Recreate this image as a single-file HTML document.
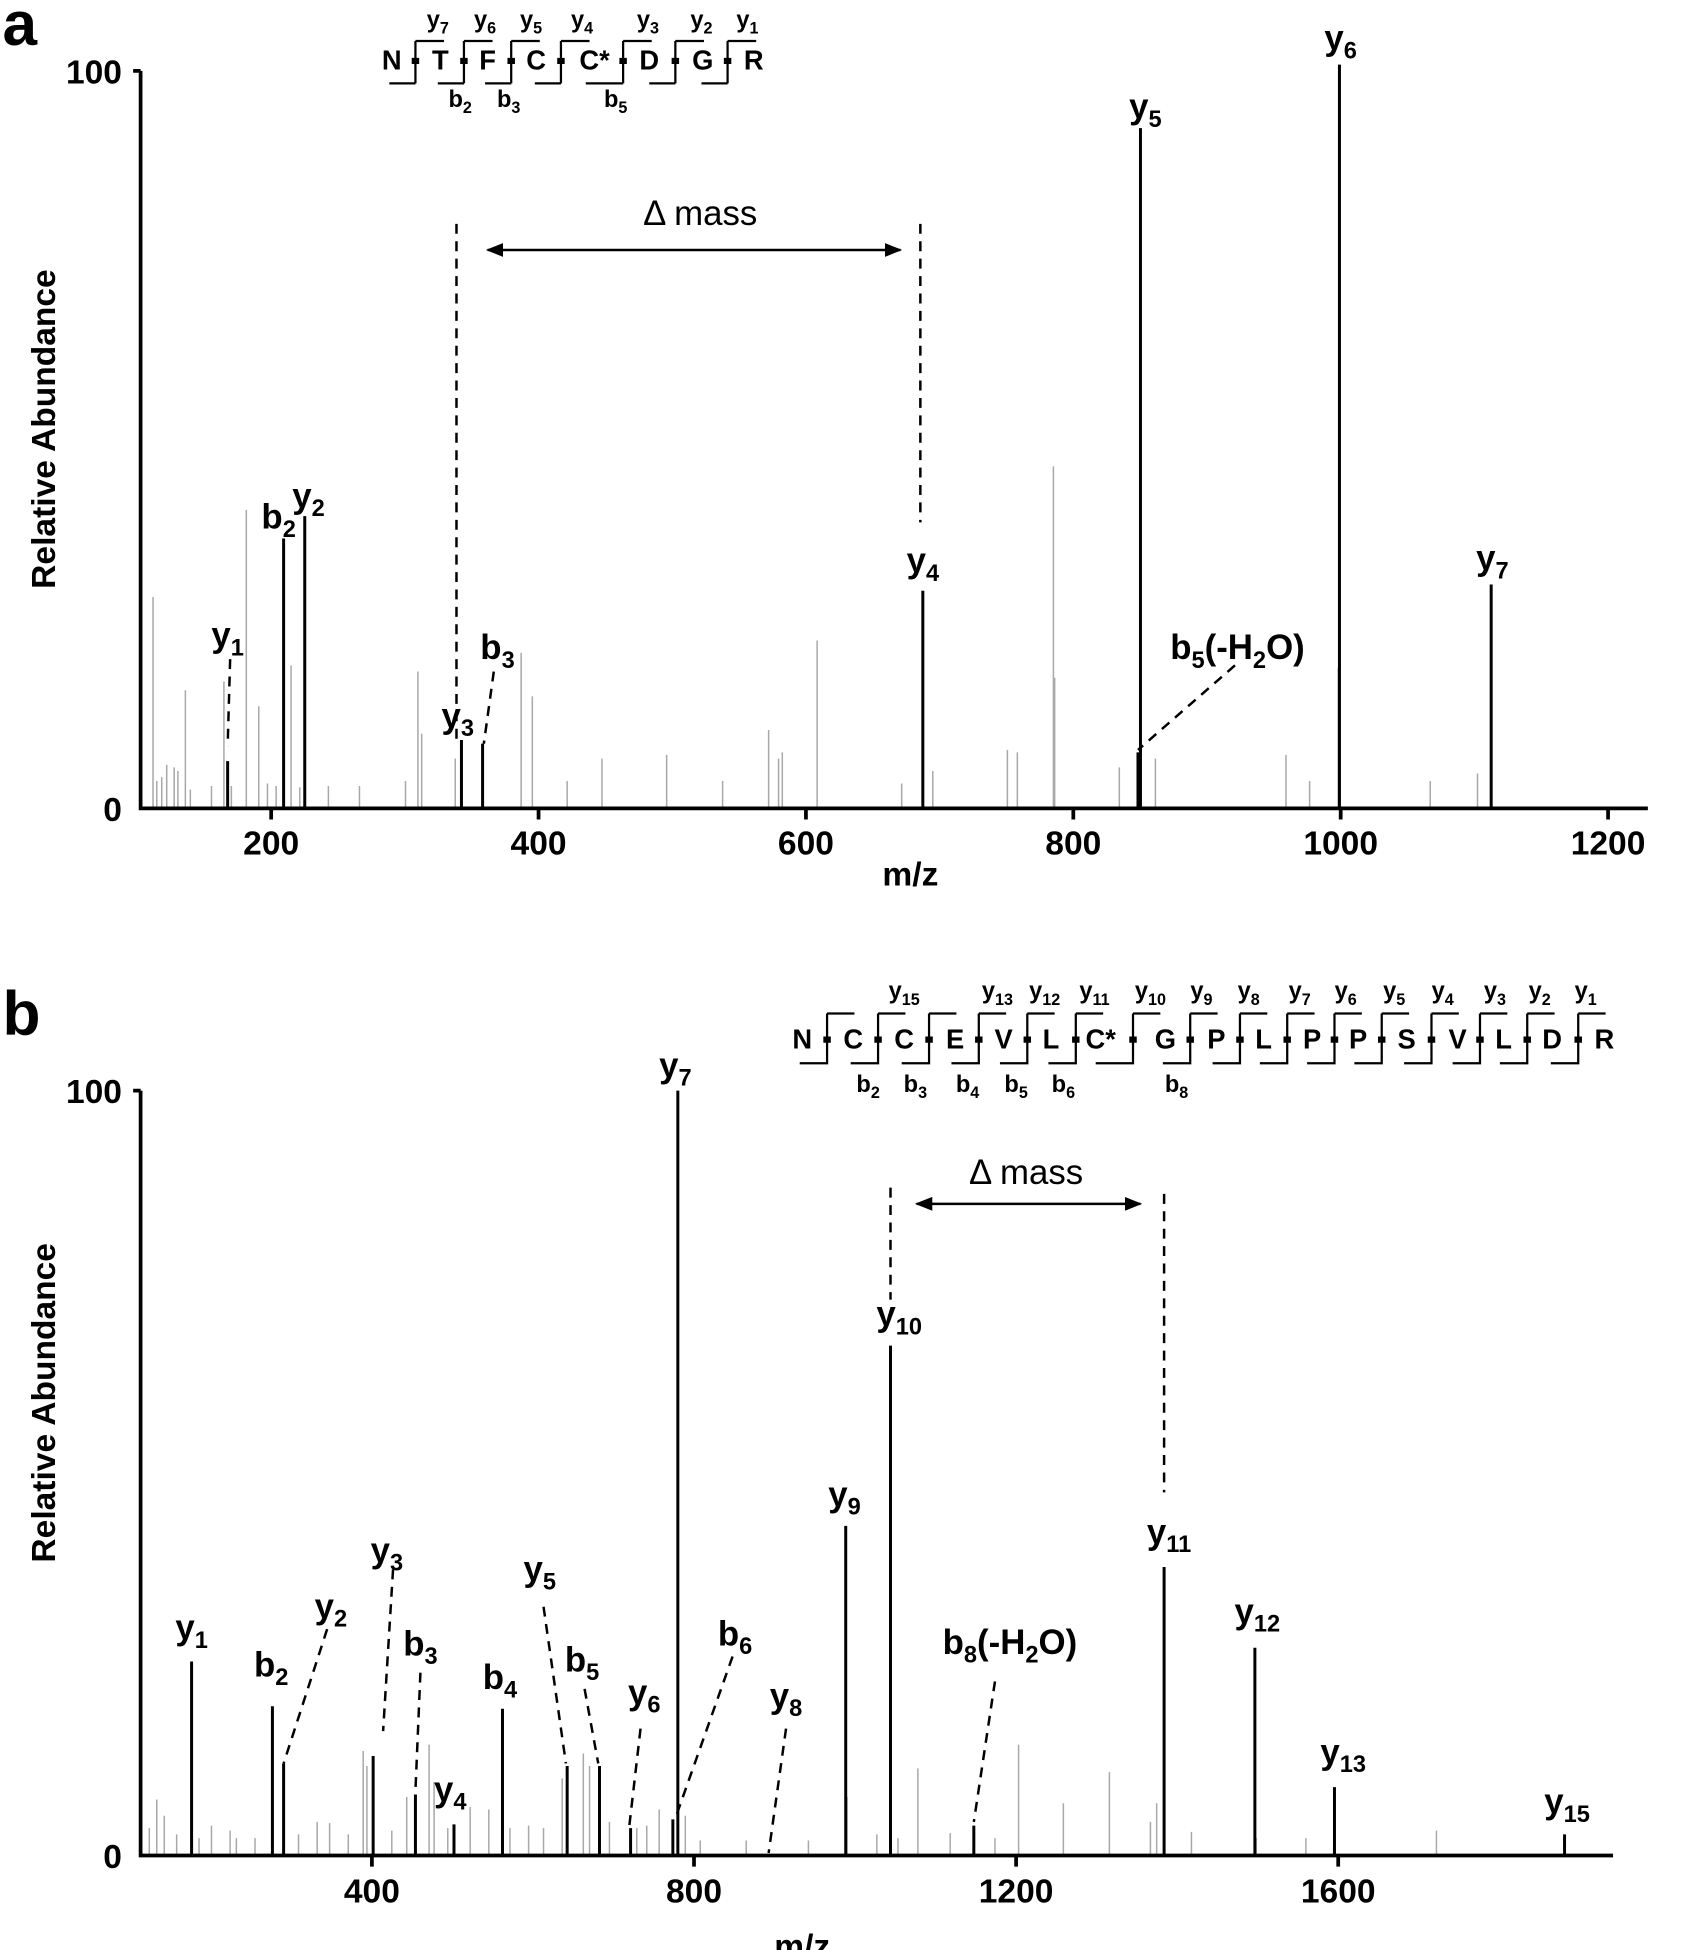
<!DOCTYPE html>
<html><head><meta charset="utf-8"><style>
html,body{margin:0;padding:0;background:#fff}
svg{display:block}
text{font-family:"Liberation Sans Narrow","Liberation Sans",sans-serif;font-weight:bold;fill:#000}
.w{font-family:"Liberation Sans",sans-serif}
.pk{font-size:28px;text-anchor:middle}
.sq{font-size:22px;text-anchor:middle}
.sl{font-size:19px;text-anchor:middle}
.tk{font-size:27px;text-anchor:middle}
.g{stroke:#a8a8a8;stroke-width:1.2;fill:none}
.k{stroke:#000;stroke-width:2.4;fill:none}
.d{stroke:#000;stroke-width:2;stroke-dasharray:8,6;fill:none}
.ax{stroke:#000;stroke-width:3;fill:none}
.br{stroke:#000;stroke-width:1.8;fill:none}
</style></head><body>
<svg width="1684" height="1950" viewBox="0 0 1354 1568" xmlns="http://www.w3.org/2000/svg">
<defs><marker id="ar" viewBox="0 0 10 10" refX="9" refY="5" markerWidth="7" markerHeight="7" orient="auto-start-reverse"><path d="M0,1 L10,5 L0,9 z" fill="#000"/></marker></defs>

<!-- ===== Panel a ===== -->
<text x="2" y="36" class="w" style="font-size:50px">a</text>
<path class="g" d="M123 650V480M130 650V625M134 650V615M149 650V555M153 650V635M180 650V548M198 650V410M208 650V568M215 650V630M234 650V535M241 650V633M264 650V632M289 650V632M326 650V628M336 650V540M339 650V590M366 650V610M419 650V525M428 650V560M456 650V628M484 650V610M536 650V607M581 650V628M618 650V587M626 650V610M629 650V605M657 650V515M725 650V630M750 650V620M810 650V603M818 650V605M847 650V375M848 650V545M900 650V617M929 650V610M1034 650V607M1053 650V628M1076 650V537M1150 650V628M1188 650V622M126 650V628M140 650V617M143 650V620M170 650V632M186 650V632M222 650V632"/>
<path class="k" d="M183 650V612M228 650V433M245 650V415M371 650V595M388 650V598M742 650V475M915 650V605M917 650V103M1077 650V52M1199 650V470"/>
<path class="ax" d="M113 57V650H1325M107 57H113M218 650v9M433 650v9M648 650v9M863 650v9M1078 650v9M1293 650v9"/>
<text x="98" y="67" class="tk" style="text-anchor:end">100</text>
<text x="98" y="660" class="tk" style="text-anchor:end">0</text>
<text x="218" y="687" class="tk">200</text><text x="433" y="687" class="tk">400</text><text x="648" y="687" class="tk">600</text><text x="863" y="687" class="tk">800</text><text x="1078" y="687" class="tk">1000</text><text x="1293" y="687" class="tk">1200</text>
<text x="732" y="712" class="tk">m/z</text>
<text class="w" transform="translate(44 345) rotate(-90)" style="font-size:27px;text-anchor:middle">Relative Abundance</text>

<path class="d" d="M367 180V595M740 180V420M185 530L183 600M397 540L389 598M993 535L915 603"/>
<line x1="392" y1="201" x2="724" y2="201" stroke="#000" stroke-width="2" marker-start="url(#ar)" marker-end="url(#ar)"/>
<text x="563" y="181" style="font-size:28px;text-anchor:middle;font-weight:normal">Δ mass</text>

<text x="183" y="520" class="pk">y<tspan dy="7" font-size="19">1</tspan></text>
<text x="224" y="425" class="pk">b<tspan dy="7" font-size="19">2</tspan></text>
<text x="248" y="408" class="pk">y<tspan dy="7" font-size="19">2</tspan></text>
<text x="368" y="585" class="pk">y<tspan dy="7" font-size="19">3</tspan></text>
<text x="400" y="530" class="pk">b<tspan dy="7" font-size="19">3</tspan></text>
<text x="742" y="460" class="pk">y<tspan dy="7" font-size="19">4</tspan></text>
<text x="921" y="95" class="pk">y<tspan dy="7" font-size="19">5</tspan></text>
<text x="1078" y="40" class="pk">y<tspan dy="7" font-size="19">6</tspan></text>
<text x="1200" y="458" class="pk">y<tspan dy="7" font-size="19">7</tspan></text>
<text x="995" y="530" class="pk">b<tspan dy="7" font-size="19">5</tspan><tspan dy="-7">(-H</tspan><tspan dy="7" font-size="19">2</tspan><tspan dy="-7">O)</tspan></text>

<!-- sequence a -->
<text x="315" y="56" class="sq">N</text><text x="354" y="56" class="sq">T</text><text x="392" y="56" class="sq">F</text><text x="431" y="56" class="sq">C</text><text x="478" y="56" class="sq">C*</text><text x="522" y="56" class="sq">D</text><text x="565" y="56" class="sq">G</text><text x="606" y="56" class="sq">R</text>
<path class="br" d="M334 33V67M334 33h23M334 67h-21M373 33V67M373 33h23M373 67h-21M411 33V67M411 33h23M411 67h-21M451 33V67M451 33h23M451 67h-21M501 33V67M501 33h23M501 67h-30M543 33V67M543 33h23M543 67h-21M585 33V67M585 33h23M585 67h-21"/>
<path stroke="#000" stroke-width="5" d="M331 49h6M370 49h6M408 49h6M448 49h6M498 49h6M540 49h6M582 49h6"/>
<text x="352" y="22" class="sl">y<tspan dy="5" font-size="13">7</tspan></text><text x="390" y="22" class="sl">y<tspan dy="5" font-size="13">6</tspan></text><text x="427" y="22" class="sl">y<tspan dy="5" font-size="13">5</tspan></text><text x="468" y="22" class="sl">y<tspan dy="5" font-size="13">4</tspan></text><text x="521" y="22" class="sl">y<tspan dy="5" font-size="13">3</tspan></text><text x="564" y="22" class="sl">y<tspan dy="5" font-size="13">2</tspan></text><text x="601" y="22" class="sl">y<tspan dy="5" font-size="13">1</tspan></text>
<text x="370" y="86" class="sl">b<tspan dy="5" font-size="13">2</tspan></text><text x="409" y="86" class="sl">b<tspan dy="5" font-size="13">3</tspan></text><text x="495" y="86" class="sl">b<tspan dy="5" font-size="13">5</tspan></text>

<!-- ===== Panel b ===== -->
<text x="2" y="832" class="w" style="font-size:50px">b</text>
<path class="g" d="M120 1492V1470M126 1492V1447M132 1492V1460M170 1492V1468M185 1492V1472M190 1492V1478M240 1492V1475M255 1492V1465M265 1492V1466M292 1492V1408M295 1492V1420M327 1492V1445M345 1492V1403M349 1492V1433M378 1492V1453M393 1492V1455M410 1492V1470M437 1492V1470M452 1492V1430M469 1492V1410M474 1492V1420M512 1492V1470M530 1492V1455M551 1492V1460M563 1492V1480M681 1492V1445M705 1492V1475M738 1492V1422M764 1492V1474M819 1492V1403M855 1492V1450M892 1492V1425M925 1492V1465M930 1492V1450M958 1492V1473M1010 1492V1478M1155 1492V1472M142 1492V1475M160 1492V1478M205 1492V1478M280 1492V1475M315 1492V1472M360 1492V1470M425 1492V1468M490 1492V1465M520 1492V1468M600 1492V1480M650 1492V1480M722 1492V1478M800 1492V1478M1050 1492V1478"/>
<path class="k" d="M154 1492V1336M219 1492V1372M228 1492V1418M300 1492V1412M334 1492V1443M365 1492V1467M404 1492V1374M456 1492V1420M482 1492V1420M507 1492V1470M541 1492V1463M545 1492V877M680 1492V1227M716 1492V1082M783 1492V1468M936 1492V1260M1009 1492V1325M1073 1492V1437M1258 1492V1475"/>
<path class="ax" d="M113 877V1492H1297M107 877H113M299 1492v9M558 1492v9M817 1492v9M1076 1492v9"/>
<text x="98" y="887" class="tk" style="text-anchor:end">100</text>
<text x="98" y="1502" class="tk" style="text-anchor:end">0</text>
<text x="299" y="1530" class="tk">400</text><text x="558" y="1530" class="tk">800</text><text x="817" y="1530" class="tk">1200</text><text x="1076" y="1530" class="tk">1600</text>
<text x="645" y="1574" class="tk">m/z</text>
<text class="w" transform="translate(44 1128) rotate(-90)" style="font-size:27px;text-anchor:middle">Relative Abundance</text>

<path class="d" d="M716 955V1045M936 960V1200M263 1310L228 1418M316 1262L308 1392M338 1345L334 1440M437 1292L455 1418M470 1358L481 1418M515 1390L506 1468M589 1332L543 1462M632 1390L618 1490M800 1352L783 1465"/>
<line x1="737" y1="968" x2="917" y2="968" stroke="#000" stroke-width="2" marker-start="url(#ar)" marker-end="url(#ar)"/>
<text x="825" y="952" style="font-size:28px;text-anchor:middle;font-weight:normal">Δ mass</text>

<text x="154" y="1318" class="pk">y<tspan dy="7" font-size="19">1</tspan></text>
<text x="218" y="1348" class="pk">b<tspan dy="7" font-size="19">2</tspan></text>
<text x="266" y="1301" class="pk">y<tspan dy="7" font-size="19">2</tspan></text>
<text x="311" y="1256" class="pk">y<tspan dy="7" font-size="19">3</tspan></text>
<text x="338" y="1331" class="pk">b<tspan dy="7" font-size="19">3</tspan></text>
<text x="362" y="1448" class="pk">y<tspan dy="7" font-size="19">4</tspan></text>
<text x="402" y="1358" class="pk">b<tspan dy="7" font-size="19">4</tspan></text>
<text x="434" y="1271" class="pk">y<tspan dy="7" font-size="19">5</tspan></text>
<text x="468" y="1344" class="pk">b<tspan dy="7" font-size="19">5</tspan></text>
<text x="518" y="1370" class="pk">y<tspan dy="7" font-size="19">6</tspan></text>
<text x="591" y="1323" class="pk">b<tspan dy="7" font-size="19">6</tspan></text>
<text x="632" y="1373" class="pk">y<tspan dy="7" font-size="19">8</tspan></text>
<text x="543" y="866" class="pk">y<tspan dy="7" font-size="19">7</tspan></text>
<text x="679" y="1211" class="pk">y<tspan dy="7" font-size="19">9</tspan></text>
<text x="723" y="1066" class="pk">y<tspan dy="7" font-size="19">10</tspan></text>
<text x="812" y="1330" class="pk">b<tspan dy="7" font-size="19">8</tspan><tspan dy="-7">(-H</tspan><tspan dy="7" font-size="19">2</tspan><tspan dy="-7">O)</tspan></text>
<text x="940" y="1241" class="pk">y<tspan dy="7" font-size="19">11</tspan></text>
<text x="1011" y="1305" class="pk">y<tspan dy="7" font-size="19">12</tspan></text>
<text x="1080" y="1418" class="pk">y<tspan dy="7" font-size="19">13</tspan></text>
<text x="1260" y="1458" class="pk">y<tspan dy="7" font-size="19">15</tspan></text>

<!-- sequence b -->
<text x="645" y="843" class="sq">N</text><text x="686" y="843" class="sq">C</text><text x="727" y="843" class="sq">C</text><text x="768" y="843" class="sq">E</text><text x="807" y="843" class="sq">V</text><text x="845" y="843" class="sq">L</text><text x="885" y="843" class="sq">C*</text><text x="937" y="843" class="sq">G</text><text x="978" y="843" class="sq">P</text><text x="1016" y="843" class="sq">L</text><text x="1055" y="843" class="sq">P</text><text x="1092" y="843" class="sq">P</text><text x="1131" y="843" class="sq">S</text><text x="1172" y="843" class="sq">V</text><text x="1209" y="843" class="sq">L</text><text x="1248" y="843" class="sq">D</text><text x="1290" y="843" class="sq">R</text>
<path class="br" d="M665 815V855h-22M665 815h22M706 815V855h-22M706 815h22M747 815V855h-22M747 815h22M787 815V855h-22M787 815h22M826 815V855h-22M826 815h22M865 815V855h-22M865 815h22M911 815V855h-30M911 815h22M957 815V855h-22M957 815h22M997 815V855h-22M997 815h22M1035 815V855h-22M1035 815h22M1073 815V855h-22M1073 815h22M1111 815V855h-22M1111 815h22M1151 815V855h-22M1151 815h22M1190 815V855h-22M1190 815h22M1228 815V855h-22M1228 815h22M1269 815V855h-22M1269 815h22"/>
<path stroke="#000" stroke-width="5" d="M662 836h6M703 836h6M744 836h6M784 836h6M823 836h6M862 836h6M908 836h6M954 836h6M994 836h6M1032 836h6M1070 836h6M1108 836h6M1148 836h6M1187 836h6M1225 836h6M1266 836h6"/>
<text x="727" y="803" class="sl">y<tspan dy="5" font-size="13">15</tspan></text><text x="802" y="803" class="sl">y<tspan dy="5" font-size="13">13</tspan></text><text x="840" y="803" class="sl">y<tspan dy="5" font-size="13">12</tspan></text><text x="880" y="803" class="sl">y<tspan dy="5" font-size="13">11</tspan></text><text x="925" y="803" class="sl">y<tspan dy="5" font-size="13">10</tspan></text><text x="966" y="803" class="sl">y<tspan dy="5" font-size="13">9</tspan></text><text x="1004" y="803" class="sl">y<tspan dy="5" font-size="13">8</tspan></text><text x="1045" y="803" class="sl">y<tspan dy="5" font-size="13">7</tspan></text><text x="1082" y="803" class="sl">y<tspan dy="5" font-size="13">6</tspan></text><text x="1121" y="803" class="sl">y<tspan dy="5" font-size="13">5</tspan></text><text x="1160" y="803" class="sl">y<tspan dy="5" font-size="13">4</tspan></text><text x="1202" y="803" class="sl">y<tspan dy="5" font-size="13">3</tspan></text><text x="1238" y="803" class="sl">y<tspan dy="5" font-size="13">2</tspan></text><text x="1275" y="803" class="sl">y<tspan dy="5" font-size="13">1</tspan></text>
<text x="698" y="878" class="sl">b<tspan dy="5" font-size="13">2</tspan></text><text x="736" y="878" class="sl">b<tspan dy="5" font-size="13">3</tspan></text><text x="778" y="878" class="sl">b<tspan dy="5" font-size="13">4</tspan></text><text x="817" y="878" class="sl">b<tspan dy="5" font-size="13">5</tspan></text><text x="855" y="878" class="sl">b<tspan dy="5" font-size="13">6</tspan></text><text x="946" y="878" class="sl">b<tspan dy="5" font-size="13">8</tspan></text>
</svg>
</body></html>
